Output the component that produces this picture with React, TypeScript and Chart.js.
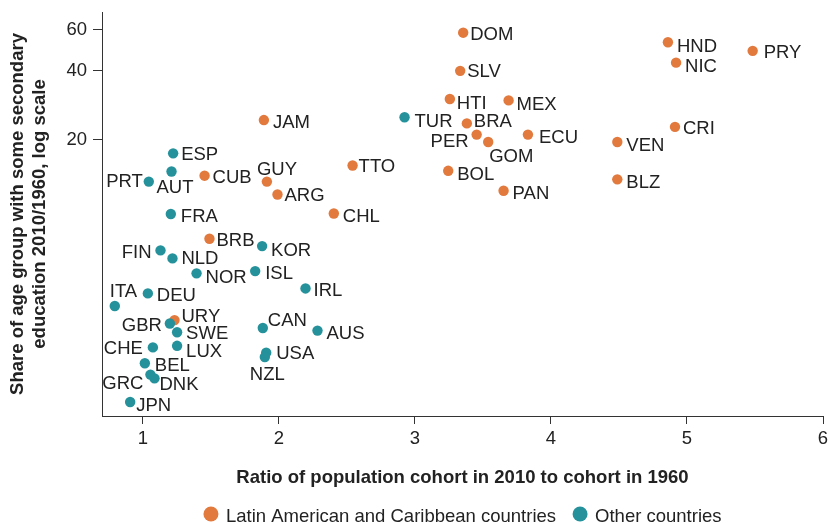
import React, { useEffect, useRef } from "react";
import { Chart, registerables } from "chart.js";

Chart.register(...registerables);

const FONT = "'Liberation Sans', Arial, Helvetica, sans-serif";
const FS = 18.5;
const TEXT = "#222222";
const AXIS = "#333333";
const ORANGE = "#E2793D";
const TEAL = "#25929B";

// ---- data ----
const seriesNames = ["Latin American and Caribbean countries", "Other countries"];

const latamCodes = ["DOM", "SLV", "HTI", "MEX", "BRA", "PER", "GOM", "ECU", "BOL", "PAN", "VEN", "BLZ", "HND", "NIC", "PRY", "CRI", "JAM", "CUB", "GUY", "ARG", "TTO", "CHL", "BRB", "URY"];
const latamRatio = [3.355, 3.333, 3.257, 3.689, 3.382, 3.454, 3.539, 3.831, 3.245, 3.652, 4.488, 4.488, 4.86, 4.92, 5.483, 4.912, 1.89, 1.454, 1.912, 1.99, 2.542, 2.404, 1.49, 1.233];
const latamShare = [58.4, 39.9, 30.1, 29.7, 23.6, 21.1, 19.6, 21.1, 14.7, 12.05, 19.6, 13.5, 53.1, 43.3, 48.7, 22.8, 24.4, 14.0, 13.2, 11.6, 15.5, 9.6, 7.46, 3.31];

const otherCodes = ["TUR", "ESP", "AUT", "PRT", "FRA", "KOR", "FIN", "NLD", "NOR", "ISL", "IRL", "DEU", "ITA", "GBR", "SWE", "CAN", "AUS", "CHE", "LUX", "USA", "NZL", "BEL", "GRC", "DNK", "JPN"];
const otherRatio = [2.924, 1.223, 1.211, 1.044, 1.206, 1.877, 1.13, 1.218, 1.395, 1.826, 2.196, 1.037, 0.794, 1.199, 1.252, 1.882, 2.284, 1.074, 1.252, 1.907, 1.897, 1.015, 1.056, 1.086, 0.907];
const otherShare = [25.1, 17.5, 14.6, 13.2, 9.55, 6.93, 6.64, 6.13, 5.28, 5.4, 4.54, 4.32, 3.81, 3.2, 2.93, 3.06, 2.98, 2.52, 2.56, 2.39, 2.29, 2.15, 1.92, 1.85, 1.46];

const xTicks = [1, 2, 3, 4, 5, 6];
const yTicks = [20, 40, 60];
const xTitle = "Ratio of population cohort in 2010 to cohort in 1960";
const yTitle = ["Share of age group with some secondary", "education 2010/1960, log scale"];

// label placement relative to the point: [dx, dy (cap centre), text alignment]
const LABEL_POS: Record<string, [number, number, CanvasTextAlign]> = {
  DOM: [7, 1, "left"], SLV: [7, 0, "left"], HTI: [7, 3, "left"], MEX: [8, 3, "left"],
  TUR: [10, 3, "left"], BRA: [7, -3, "left"], PER: [-8, 6, "right"], GOM: [1, 13, "left"],
  ECU: [11, 2, "left"], BOL: [9, 3, "left"], PAN: [9, 2, "left"], VEN: [9, 2, "left"],
  BLZ: [9, 2, "left"], HND: [9, 3, "left"], NIC: [9, 3, "left"], PRY: [11, 1, "left"],
  CRI: [8, 1, "left"], JAM: [9, 1, "left"], ESP: [8, 0, "left"], AUT: [-15, 15, "left"],
  PRT: [-6, -1, "right"], CUB: [8, 1, "left"], GUY: [-10, -13, "left"], ARG: [7, 0, "left"],
  TTO: [6, 0, "left"], FRA: [10, 1, "left"], CHL: [9, 2, "left"], BRB: [7, 1, "left"],
  KOR: [9, 3, "left"], FIN: [-9, 1, "right"], NLD: [9, -1, "left"], NOR: [9, 3, "left"],
  ISL: [10, 1, "left"], IRL: [8, 1, "left"], DEU: [9, 1, "left"], ITA: [-5, -16, "left"],
  URY: [7, -5, "left"], GBR: [-8, 1, "right"], SWE: [9, 0, "left"], CAN: [5, -9, "left"],
  AUS: [9, 2, "left"], CHE: [-10, 0, "right"], LUX: [9, 5, "left"], USA: [10, 0, "left"],
  NZL: [-15, 16, "left"], BEL: [10, 1, "left"], GRC: [-7, 8, "right"], DNK: [5, 5, "left"],
  JPN: [6, 2, "left"],
};

const CAP = FS * 0.716;

const pointLabels = {
  id: "pointLabels",
  afterDatasetsDraw(chart: any) {
    const ctx = chart.ctx;
    ctx.save();
    ctx.font = `${FS}px ${FONT}`;
    ctx.fillStyle = TEXT;
    ctx.textBaseline = "alphabetic";
    chart.data.datasets.forEach((ds: any, di: number) => {
      const meta = chart.getDatasetMeta(di);
      meta.data.forEach((el: any, i: number) => {
        const code = ds.data[i].code;
        const [dx, dy, align] = LABEL_POS[code] || [8, 0, "left"];
        ctx.textAlign = align;
        ctx.fillText(code, el.x + dx, el.y + dy + CAP / 2);
      });
    });
    ctx.restore();
  },
};

const customLegend = {
  id: "customLegend",
  afterDraw(chart: any) {
    const ctx = chart.ctx;
    const area = chart.chartArea;
    ctx.save();
    ctx.font = `${FS}px ${FONT}`;
    const r = 7.5;
    const gapText = 7.5;
    const gapItem = 16.5;
    const items = [0, 1].map((k) => ({
      text: seriesNames[k],
      color: k === 0 ? ORANGE : TEAL,
      w: ctx.measureText(seriesNames[k]).width,
    }));
    const total = items.reduce((s, it) => s + 2 * r + gapText + it.w, 0) + gapItem;
    let x = (area.left + area.right) / 2 - total / 2;
    const cy = 514;
    items.forEach((it) => {
      ctx.beginPath();
      ctx.fillStyle = it.color;
      ctx.arc(x + r, cy, r, 0, Math.PI * 2);
      ctx.fill();
      ctx.fillStyle = TEXT;
      ctx.textAlign = "left";
      ctx.textBaseline = "alphabetic";
      ctx.fillText(it.text, x + 2 * r + gapText, cy + 1 + CAP / 2);
      x += 2 * r + gapText + it.w + gapItem;
    });
    ctx.restore();
  },
};

const clearPadding = (s: any) => {
  s.paddingTop = 0;
  s.paddingBottom = 0;
  s.paddingLeft = 0;
  s.paddingRight = 0;
};

export default function App() {
  const ref = useRef<HTMLCanvasElement>(null);

  useEffect(() => {
    if (!ref.current) return;
    const mk = (xs: number[], ys: number[], codes: string[]) =>
      xs.map((x, i) => ({ x, y: ys[i], code: codes[i] }));
    const chart = new Chart(ref.current, {
      type: "scatter",
      data: {
        datasets: [
          {
            label: seriesNames[0],
            data: mk(latamRatio, latamShare, latamCodes) as any,
            backgroundColor: ORANGE,
            borderWidth: 0,
            pointRadius: 5.2,
            order: 1,
          },
          {
            label: seriesNames[1],
            data: mk(otherRatio, otherShare, otherCodes) as any,
            backgroundColor: TEAL,
            borderWidth: 0,
            pointRadius: 5.2,
            order: 0,
          },
        ],
      },
      options: {
        animation: false,
        responsive: false,
        devicePixelRatio: 1,
        layout: { padding: { left: 0, right: 6, top: 12, bottom: 27 } },
        plugins: {
          legend: { display: false },
          tooltip: { enabled: false },
        },
        scales: {
          x: {
            type: "linear",
            min: 0.7,
            max: 6,
            afterBuildTicks: (s: any) => {
              s.ticks = xTicks.map((v) => ({ value: v }));
            },
            afterFit: (s: any) => {
              s.height = 80;
              clearPadding(s);
            },
            grid: {
              display: true,
              drawOnChartArea: false,
              drawTicks: true,
              tickLength: 8,
              color: AXIS,
              tickColor: AXIS,
              lineWidth: 1,
            },
            border: { display: true, color: AXIS, width: 1 },
            ticks: {
              font: { family: FONT, size: FS },
              color: TEXT,
              padding: 4,
              maxRotation: 0,
              autoSkip: false,
              callback: (v: any) => String(v),
            },
            title: {
              display: true,
              text: xTitle,
              font: { family: FONT, size: FS, weight: "bold" },
              color: TEXT,
              padding: { top: 0, bottom: 7 },
            },
          },
          y: {
            type: "logarithmic",
            min: 1.27,
            max: 71.8,
            afterBuildTicks: (s: any) => {
              s.ticks = yTicks.map((v) => ({ value: v }));
            },
            afterFit: (s: any) => {
              s.width = 102;
              clearPadding(s);
            },
            grid: {
              display: true,
              drawOnChartArea: false,
              drawTicks: true,
              tickLength: 9,
              color: AXIS,
              tickColor: AXIS,
              lineWidth: 1,
            },
            border: { display: true, color: AXIS, width: 1 },
            ticks: {
              font: { family: FONT, size: FS },
              color: TEXT,
              padding: 6,
              autoSkip: false,
              callback: (v: any) => String(v),
            },
            title: {
              display: true,
              text: yTitle,
              font: { family: FONT, size: FS, weight: "bold" },
              color: TEXT,
              padding: { top: 7, bottom: 0 },
            },
          },
        },
      },
      plugins: [pointLabels, customLegend],
    } as any);
    return () => chart.destroy();
  }, []);

  return (
    <div style={{ position: "absolute", left: 0, top: 0, width: 829, height: 523, background: "#fff" }}>
      <canvas ref={ref} width={829} height={523} style={{ display: "block", width: 829, height: 523 }} />
    </div>
  );
}
